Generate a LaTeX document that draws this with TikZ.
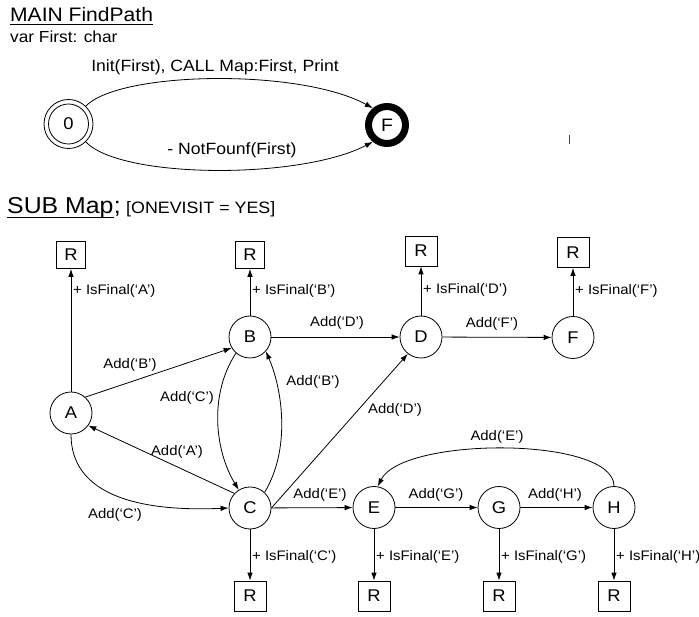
\documentclass[tikz,border=0pt]{standalone}
\usepackage{fontspec}
\setmainfont[FakeStretch=1.08]{Liberation Sans}
\usetikzlibrary{arrows.meta,calc}
\begin{document}
\begin{tikzpicture}[x=1pt,y=1pt,
  st/.style={circle,draw,line width=0.8pt,minimum size=42pt,inner sep=0pt,font=\fontsize{17}{20}\selectfont},
  rbox/.style={draw,line width=0.8pt,minimum width=32pt,minimum height=30pt,inner sep=0pt,font=\fontsize{17}{20}\selectfont},
  lbl/.style={font=\fontsize{13.8}{16}\selectfont,inner sep=1pt},
  toplbl/.style={font=\fontsize{16.3}{19}\selectfont,inner sep=0pt,anchor=base},
  arr/.style={line width=0.8pt,-{Latex[length=8pt,width=5.5pt]}},
  fin/.style={lbl,anchor=west}
]
\useasboundingbox (0,0) rectangle (699,-617);

% ---------- MAIN ----------
\node[anchor=base west,font=\fontsize{19.5}{22}\selectfont,inner sep=0pt] (t1) at (10,-21.7) {MAIN FindPath};
\draw[line width=1.1pt] ($(t1.base west)+(0,-2.8)$) -- ($(t1.base east)+(0,-2.8)$);
\node[anchor=base west,font=\fontsize{16}{19}\selectfont,inner sep=0pt] (t2) at (10,-42.7) {var First: char};

\node[st,minimum size=49pt] (n0) at (68.5,-124) {0};
\draw[line width=0.8pt] (n0.center) circle[radius=20pt];
\node[circle,draw,line width=7pt,minimum size=37pt,inner sep=0pt,font=\fontsize{18}{20}\selectfont] (nF) at (387,-125) {F};

\draw[arr] (n0.46) .. controls +(34,35) and +(-73,40) .. (nF.130);
\node[toplbl] (l1) at (215,-72) {Init(First), CALL Map:First, Print};
\draw[arr] (n0.-46) .. controls +(35,-37) and +(-73,-38) .. (nF.-130);
\node[toplbl] (l2) at (232,-155) {- NotFounf(First)};

\draw[line width=0.9pt,black!75] (569.5,-135) -- (569.5,-144);

% ---------- SUB ----------
\node[anchor=base west,font=\fontsize{23}{26}\selectfont,inner sep=0pt] (s1) at (7,-214) {SUB Map};
\node[anchor=base west,font=\fontsize{23}{26}\selectfont,inner sep=0pt] (s1b) at (s1.base east) {;};
\draw[line width=1.2pt] ($(s1.base west)+(0,-3.5)$) -- ($(s1.base east)+(0,-3.5)$);
\node[anchor=base west,font=\fontsize{16.5}{19}\selectfont,inner sep=0pt] (s2) at (126,-214) {[ONEVISIT = YES]};

% states
\node[st] (A) at (71,-413) {A};
\node[st] (B) at (250,-337) {B};
\node[st] (D) at (421,-337) {D};
\node[st] (F) at (573,-337.5) {F};
\node[st] (C) at (250,-508) {C};
\node[st] (E) at (374,-507.5) {E};
\node[st] (G) at (499,-507.5) {G};
\node[st] (H) at (614,-507.5) {H};

% result boxes
\node[rbox,minimum width=29pt,minimum height=27pt] (RA) at (71,-255) {R};
\node[rbox,minimum width=29pt,minimum height=27pt] (RB) at (250,-255) {R};
\node[rbox] (RD) at (421,-251) {R};
\node[rbox] (RF) at (573,-252.5) {R};
\node[rbox] (RC) at (250,-596) {R};
\node[rbox] (RE) at (374,-596) {R};
\node[rbox] (RG) at (499,-596) {R};
\node[rbox] (RH) at (614,-596) {R};

% final transitions
\draw[arr] (A) -- (RA);
\draw[arr] (B) -- (RB);
\draw[arr] (D) -- (RD);
\draw[arr] (F) -- (RF);
\draw[arr] (C) -- (RC);
\draw[arr] (E) -- (RE);
\draw[arr] (G) -- (RG);
\draw[arr] (H) -- (RH);
\node[fin] (fA) at (72,-291) {+ IsFinal(‘A’)};
\node[fin] (fB) at (251,-291) {+ IsFinal(‘B’)};
\node[fin] (fD) at (422,-290) {+ IsFinal(‘D’)};
\node[fin] (fF) at (574,-291) {+ IsFinal(‘F’)};
\node[fin] (fC) at (251,-557) {+ IsFinal(‘C’)};
\node[fin] (fE) at (375,-557) {+ IsFinal(‘E’)};
\node[fin] (fG) at (500,-557) {+ IsFinal(‘G’)};
\node[fin] (fH) at (615,-557) {+ IsFinal(‘H’)};

% moves
\draw[arr] (A.48) -- (B.211);
\node[lbl] (aB1) at (130,-365) {Add(‘B’)};
\draw[arr] (B) -- (D);
\node[lbl] (aD1) at (337,-323) {Add(‘D’)};
\draw[arr] (D) -- (F);
\node[lbl] (aF) at (492,-324) {Add(‘F’)};
\draw[arr] (B.229) .. controls +(-27,-41) and +(-24,40) .. (C.122);
\node[lbl] (aC1) at (187,-398) {Add(‘C’)};
\draw[arr] (C.47) .. controls +(25,41) and +(18,-42) .. (B.-42);
\node[lbl] (aB2) at (313,-382) {Add(‘B’)};
\draw[arr] (C.137) -- (A.-36);
\node[lbl] (aA) at (177,-452) {Add(‘A’)};
\draw[arr] (A.south) .. controls +(0,-61) and +(-89,-4) .. (C.west);
\node[lbl] (aC2) at (115,-515) {Add(‘C’)};
\draw[arr] (C.east) -- (D.232);
\node[lbl] (aD2) at (395,-410) {Add(‘D’)};
\draw[arr] (C) -- (E);
\node[lbl] (aE1) at (320,-495) {Add(‘E’)};
\draw[arr] (E) -- (G);
\node[lbl] (aG) at (436,-495) {Add(‘G’)};
\draw[arr] (G) -- (H);
\node[lbl] (aH) at (555,-495) {Add(‘H’)};
\draw[arr] (H.north) .. controls +(0,50) and +(25,50) .. (E.80);
\node[lbl] (aE2) at (497,-437) {Add(‘E’)};
\end{tikzpicture}
\end{document}
